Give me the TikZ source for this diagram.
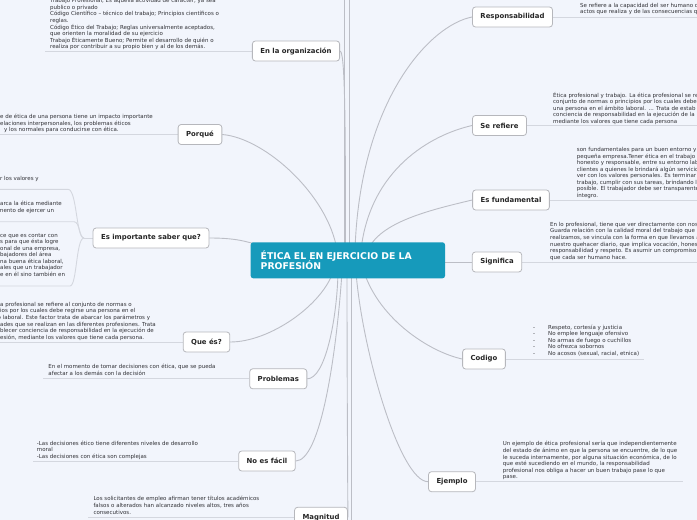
\documentclass[tikz,border=0pt]{standalone}
\usepackage{fontspec}
\setmainfont{DejaVu Sans}
\usetikzlibrary{backgrounds}
\definecolor{bg}{RGB}{242,245,252}
\definecolor{teal1}{RGB}{22,154,187}
\definecolor{connc}{RGB}{188,190,198}
\definecolor{ulc}{RGB}{212,215,223}
\definecolor{boxc}{RGB}{182,183,188}
\definecolor{txtc}{RGB}{50,50,55}
\tikzset{
 topic/.style={draw=boxc, line width=0.8pt, fill=white, rounded corners=3pt,
   font=\bfseries\fontsize{6.9}{8}\selectfont, inner xsep=8pt, inner ysep=0pt,
   minimum height=20pt, text=black!85},
 title/.style={fill=teal1, rounded corners=2.5pt, text=white,
   font=\bfseries\fontsize{9.3}{10.8}\selectfont, align=left,
   text width=174.3pt, inner xsep=10pt, inner ysep=0pt, minimum height=36pt},
 note/.style={font=\fontsize{5.5}{6.55}\selectfont, align=left, inner sep=0pt,
   anchor=north west, text=txtc, execute at begin node={\rule{0pt}{5.5pt}}},
 conn/.style={draw=connc, line width=0.9pt},
 ul/.style={draw=ulc, line width=0.9pt},
}
\begin{document}
\begin{tikzpicture}[x=1pt,y=-1pt]
\useasboundingbox (0,0) rectangle (697,520);
\clip (0,0) rectangle (697,520);

% central topic
\node[title] (c) at (347.85,260.3) {ÉTICA EL EN EJERCICIO DE LA\\PROFESIÓN};

% topics
\node[topic] (org) at (296,51) {En la organización};
\node[topic] (porque) at (200,134.5) {Porqué};
\node[topic] (imp) at (151,238) {Es importante saber que?};
\node[topic] (quees) at (206.5,342) {Que és?};
\node[topic] (prob) at (278.3,378.8) {Problemas};
\node[topic] (nofacil) at (267,461) {No es fácil};
\node[topic] (magn) at (321,517.3) {Magnitud};
\node[topic] (resp) at (512.5,17) {Responsabilidad};
\node[topic] (seref) at (499.5,125.5) {Se refiere};
\node[topic] (fund) at (511,200) {Es fundamental};
\node[topic] (sig) at (497,262) {Significa};
\node[topic] (cod) at (484,359) {Codigo};
\node[topic] (ej) at (452,481.7) {Ejemplo};

% notes
\node[note] (tOrg) at (50,-1.8) {Trabajo Profesional; Es aquella actividad de carácter, ya sea\\
publico o privado\\
Código Científico – técnico del trabajo; Principios científicos o\\
reglas.\\
Código Ético del Trabajo; Reglas universalmente aceptados,\\
que orienten la moralidad de su ejercicio\\
Trabajo Éticamente Bueno; Permite el desarrollo de quién o\\
realiza por contribuir a su propio bien y al de los demás.};

\node[note] (tPor) at (0,114) {e de ética de una persona tiene un impacto importante\\
elaciones interpersonales, los problemas éticos\\
\hspace*{4pt}y los normales para conducirse con ética.};

\node[note] (tImp1) at (0,174.7) {r los valores y};
\node[note] (tImp2) at (-2,201) {\hspace*{2pt}arca la ética mediante\\
mento de ejercer un};
\node[note] (tImp3) at (0,233) {ce que es contar con\\
s para que ésta logre\\
onal de una empresa,\\
bajadores del área\\
na buena ética laboral,\\
ales que un trabajador\\
e en él sino también en};

\node[note] (tQue) at (0,302) {a profesional se refiere al conjunto de normas o\\
ios por los cuales debe regirse una persona en el\\
\hspace*{-2.5pt}o laboral. Este factor trata de abarcar los parámetros y\\
ades que se realizan en las diferentes profesiones. Trata\\
blecer conciencia de responsabilidad en la ejecución de\\
esión, mediante los valores que tiene cada persona.};

\node[note] (tProb) at (48.3,364) {En el momento de tomar decisiones con ética, que se pueda\\
afectar a los demás con la decisión};

\node[note] (tNo) at (36.7,440.7) {-Las decisiones ético tiene diferentes niveles de desarrollo\\
moral\\
-Las decisiones con ética son complejas};

\node[note] (tMag) at (93.3,496.3) {Los solicitantes de empleo afirman tener títulos académicos\\
falsos o alterados han alcanzado niveles altos, tres años\\
consecutivos.};

\node[note] (tResp) at (580,3) {Se refiere a la capacidad del ser humano de\\
actos que realiza y de las consecuencias que};

\node[note] (tSer) at (553,92) {Ética profesional y trabajo. La ética profesional se re\\
conjunto de normas o principios por los cuales debe\\
una persona en el ámbito laboral. ... Trata de estab\\
conciencia de responsabilidad en la ejecución de la\\
mediante los valores que tiene cada persona};

\node[note] (tFun) at (576.7,147.3) {son fundamentales para un buen entorno y\\
pequeña empresa.Tener ética en el trabajo\\
honesto y responsable, entre su entorno lab\\
clientes a quienes le brindará algún servicio\\
ver con los valores personales. Es terminar\\
trabajo, cumplir con sus tareas, brindando l\\
posible. El trabajador debe ser transparente\\
íntegro.};

\node[note] (tSig) at (550,222) {En lo profesional, tiene que ver directamente con nos\\
Guarda relación con la calidad moral del trabajo que\\
realizamos, se vincula con la forma en que llevamos a\\
nuestro quehacer diario, que implica vocación, hones\\
responsabilidad y respeto. Es asumir un compromiso\\
que cada ser humano hace.};

\node[note] (tCod) at (533,324.7) {\makebox[15pt][l]{-}Respeto, cortesía y justicia\\
\makebox[15pt][l]{-}No emplee lenguaje ofensivo\\
\makebox[15pt][l]{-}No armas de fuego o cuchillos\\
\makebox[15pt][l]{-}No ofrezca sobornos\\
\makebox[15pt][l]{-}No acosos (sexual, racial, etnica)};

\node[note] (tEj) at (502.7,441.3) {Un ejemplo de ética profesional sería que independientemente\\
del estado de ánimo en que la persona se encuentre, de lo que\\
le suceda internamente, por alguna situación económica, de lo\\
que esté sucediendo en el mundo, la responsabilidad\\
profesional nos obliga a hacer un buen trabajo pase lo que\\
pase.};

% free ends
\coordinate (uOrg) at (45,51);
\coordinate (uPor) at (0,134.5);
\coordinate (uQue) at (0,342);
\coordinate (uProb) at (43,378.8);
\coordinate (uNo) at (33,461);
\coordinate (uMag) at (88,517.3);
\coordinate (uResp) at (697,17);
\coordinate (uSer) at (697,125.5);
\coordinate (uFun) at (697,200);
\coordinate (uSig) at (697,262);
\coordinate (uCod) at (644,359);
\coordinate (uEj) at (683,481.7);
\coordinate (kJ) at (84,238);
\coordinate (k1) at (68,189.3); \coordinate (k1e) at (0,189.3);
\coordinate (k2) at (74,221.7); \coordinate (k2e) at (0,221.7);
\coordinate (k3) at (70,286);   \coordinate (k3e) at (0,286);
\coordinate (topA) at (344,0);
\coordinate (topB) at (349,0);
\coordinate (botA) at (351,520);
\coordinate (sOrg) at (345.5,250);
\coordinate (sPor) at (337,250);
\coordinate (sImp) at (262,246);
\coordinate (sResp) at (355,250);
\coordinate (sSer) at (361,250);
\coordinate (sFun) at (368,250);
\coordinate (sQue) at (333,272);
\coordinate (sProb) at (338,272);
\coordinate (sNo) at (342,272);
\coordinate (sMag) at (347,272);
\coordinate (sEj) at (356,272);
\coordinate (sCod) at (364,272);

\begin{pgfonlayer}{background}
\fill[bg] (0,0) rectangle (697,520);
% underlines
\draw[ul] (org.west) -- (uOrg);
\draw[ul] (porque.west) -- (uPor);
\draw[ul] (quees.west) -- (uQue);
\draw[ul] (prob.west) -- (uProb);
\draw[ul] (nofacil.west) -- (uNo);
\draw[ul] (magn.west) -- (uMag);
\draw[ul] (resp.east) -- (uResp);
\draw[ul] (seref.east) -- (uSer);
\draw[ul] (fund.east) -- (uFun);
\draw[ul] (sig.east) -- (uSig);
\draw[ul] (cod.east) -- (uCod);
\draw[ul] (ej.east) -- (uEj);
% sub-branches of "Es importante"
\draw[ul] (imp.west) -- (kJ);
\draw[ul] (kJ) .. controls (76,238) and (77,189.3) .. (k1) -- (k1e);
\draw[ul] (kJ) .. controls (79,238) and (80,221.7) .. (k2) -- (k2e);
\draw[ul] (kJ) .. controls (76,238) and (77,286) .. (k3) -- (k3e);
% main connectors
\draw[conn] (topA) -- (topA |- c.center);
\draw[conn] (topB) -- (topB |- c.center);
\draw[conn] (botA) -- (botA |- c.center);
\draw[conn] (org.east) .. controls (345,51) and (345.5,120) .. (sOrg);
\draw[conn] (porque.east) .. controls (265,138) and (328,195) .. (sPor);
\draw[conn] (imp.east) .. controls (235,238) and (245,241) .. (sImp);
\draw[conn] (resp.west) .. controls (430,25) and (360,100) .. (sResp);
\draw[conn] (seref.west) .. controls (430,135) and (370,170) .. (sSer);
\draw[conn] (fund.west) .. controls (430,210) and (380,222) .. (sFun);
\draw[conn] (sig.west) -- (sig.west -| c.center);
\draw[conn] (quees.east) .. controls (270,342) and (322,305) .. (sQue);
\draw[conn] (prob.east) .. controls (325,378.8) and (337,320) .. (sProb);
\draw[conn] (nofacil.east) .. controls (320,461) and (336,360) .. (sNo);
\draw[conn] (magn.east) .. controls (348,517.3) and (347,400) .. (sMag);
\draw[conn] (ej.west) .. controls (400,481.7) and (362,350) .. (sEj);
\draw[conn] (cod.west) .. controls (430,352) and (380,320) .. (sCod);
\end{pgfonlayer}
\end{tikzpicture}
\end{document}
